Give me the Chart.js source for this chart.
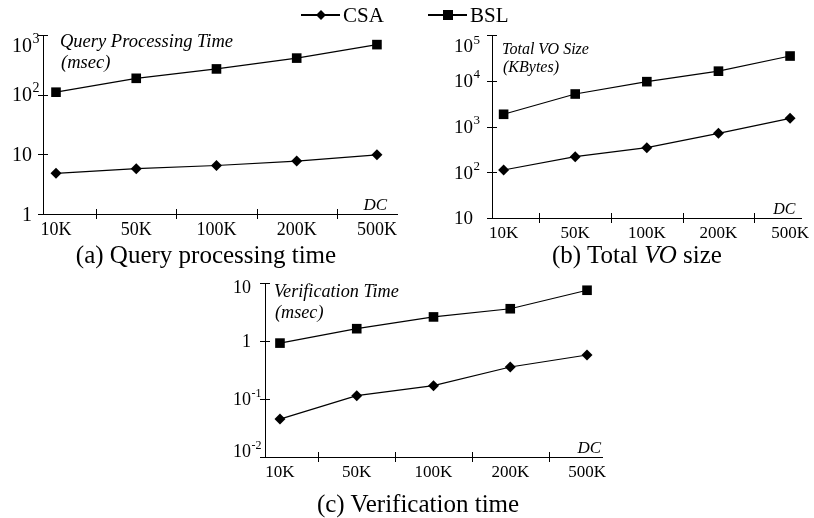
<!DOCTYPE html>
<html><head><meta charset="utf-8">
<script src="https://cdn.jsdelivr.net/npm/chart.js@4.4.1/dist/chart.umd.min.js"></script>
<style>
html,body{margin:0;padding:0;background:#fff;}
#wrap{position:relative;width:814px;height:518px;overflow:hidden;font-family:"Liberation Serif","Times New Roman",serif;color:#000;}
#wrap canvas{position:absolute;left:0;top:0;}
.cap{position:absolute;font-size:25px;white-space:nowrap;transform:translate(-50%,-50%);line-height:1;}
.leg{position:absolute;top:3px;height:24px;display:flex;align-items:center;font-size:21px;line-height:1;}
.leg .ln{position:relative;width:39px;height:1.5px;background:#000;margin-right:3px;}
.leg .dm{position:absolute;left:50%;top:50%;width:7px;height:7px;background:#000;transform:translate(-50%,-50%) rotate(45deg);}
.leg .sq{position:absolute;left:50%;top:50%;width:10px;height:10px;background:#000;transform:translate(-50%,-50%);}
</style></head><body>
<div id="wrap">
<canvas id="ca" width="814" height="518"></canvas>
<canvas id="cb" width="814" height="518"></canvas>
<canvas id="cc" width="814" height="518"></canvas>
<div class="leg" style="left:301px"><span class="ln"><span class="dm"></span></span>CSA</div>
<div class="leg" style="left:428px"><span class="ln"><span class="sq"></span></span>BSL</div>
<div class="cap" style="left:206px;top:254px">(a) Query processing time</div>
<div class="cap" style="left:637px;top:254px">(b) Total <i>VO</i> size</div>
<div class="cap" style="left:418px;top:503px">(c) Verification time</div>
</div>
<script>
// ---- data ----
const categories = ['10K', '50K', '100K', '200K', '500K'];
const seriesNames = ['CSA', 'BSL'];
const queryCSA = [4.8, 5.75, 6.5, 7.7, 9.8];
const queryBSL = [110, 188, 270, 410, 690];
const voCSA = [112, 219, 344, 708, 1510];
const voBSL = [1850, 5130, 9550, 16200, 34700];
const verCSA = [0.045, 0.114, 0.17, 0.356, 0.574];
const verBSL = [0.92, 1.63, 2.6, 3.6, 7.5];
const queryTicks = [1, 10, 100, 1000];
const queryTickLabels = ['1', '10', '10^2', '10^3'];
const voTicks = [10, 100, 1000, 10000, 100000];
const voTickLabels = ['10', '10^2', '10^3', '10^4', '10^5'];
const verTicks = [0.01, 0.1, 1, 10];
const verTickLabels = ['10^-2', '10^-1', '1', '10'];
const queryTitle = ['Query Processing Time', '(msec)'];
const voTitle = ['Total VO Size', '(KBytes)'];
const verTitle = ['Verification Time', '(msec)'];
const xAxisName = 'DC';

const SERIF = '"Liberation Serif", "Times New Roman", serif';
const W = 814, H = 518, XH = 28;

const decor = {
  id: 'decor',
  afterDraw(chart, args, o) {
    const ctx = chart.ctx, a = chart.chartArea;
    const xs = chart.scales.x, ys = chart.scales.y;
    ctx.save();
    ctx.strokeStyle = '#000';
    ctx.lineWidth = 1;
    ctx.beginPath();
    ys.ticks.forEach(t => {
      const y = Math.round(ys.getPixelForValue(t.value)) + 0.5;
      ctx.moveTo(a.left - 5, y); ctx.lineTo(a.left + 5, y);
    });
    for (let i = 0; i < categories.length - 1; i++) {
      const x = Math.round(xs.getPixelForValue(i + 0.5)) + 0.5;
      ctx.moveTo(x, a.bottom - 5); ctx.lineTo(x, a.bottom + 5);
    }
    ctx.stroke();
    ctx.fillStyle = '#000';
    // y tick labels with superscript exponents
    const n = ys.ticks.length;
    ys.ticks.forEach((t, k) => {
      const lab = o.labels[k];
      const parts = lab.split('^');
      let cy = ys.getPixelForValue(t.value);
      if (k === n - 1) cy += o.topShift;
      if (k === 0) cy += o.botShift;
      const base = o.ySize, bl = cy + 0.33 * base;
      const xr = a.left - o.ygap;
      ctx.textBaseline = 'alphabetic';
      ctx.textAlign = 'right';
      ctx.font = base + 'px ' + SERIF;
      ctx.fillText(parts[0], xr, bl);
      if (parts[1]) {
        ctx.textAlign = 'left';
        ctx.font = Math.round(base * 0.68) + 'px ' + SERIF;
        ctx.fillText(parts[1], xr + 0.5, bl - 0.45 * base);
      }
    });
    ctx.textBaseline = 'alphabetic';
    ctx.textAlign = 'left';
    ctx.font = 'italic ' + o.titleSize + 'px ' + SERIF;
    ctx.fillText(o.title[0], a.left + o.tdx, a.top + o.tdy);
    ctx.fillText(o.title[1], a.left + o.tdx + 1, a.top + o.tdy + o.tlh);
    ctx.textAlign = 'right';
    ctx.font = 'italic ' + o.dcSize + 'px ' + SERIF;
    ctx.fillText(xAxisName, a.right - o.dcdx, a.bottom - 4);
    ctx.restore();
  }
};

function makeChart(id, spec) {
  const pts = arr => arr.map((v, i) => ({ x: i, y: v }));
  return new Chart(document.getElementById(id), {
    type: 'line',
    data: {
      datasets: [
        { label: seriesNames[0], data: pts(spec.csa), borderColor: '#000', borderWidth: 1.2,
          pointStyle: 'rectRot', pointRadius: 5.5, pointBackgroundColor: '#000', pointBorderWidth: 0 },
        { label: seriesNames[1], data: pts(spec.bsl), borderColor: '#000', borderWidth: 1.2,
          pointStyle: 'rect', pointRadius: 6.8, pointBackgroundColor: '#000', pointBorderWidth: 0 }
      ]
    },
    options: {
      responsive: false,
      animation: false,
      events: [],
      clip: false,
      layout: {
        autoPadding: false,
        padding: { left: spec.left, right: W - spec.right, top: spec.top, bottom: H - spec.bottom - XH }
      },
      plugins: {
        legend: { display: false }, tooltip: { enabled: false },
        decor: Object.assign({ labels: spec.labels }, spec.decor)
      },
      scales: {
        x: {
          type: 'linear', min: spec.xmin, max: spec.xmax,
          afterBuildTicks: s => { s.ticks = categories.map((c, i) => ({ value: i })); },
          afterFit: s => { s.height = XH; },
          grid: { display: false, drawTicks: false },
          border: { display: true, color: '#000', width: 1 },
          ticks: { autoSkip: false, maxRotation: 0, padding: 5, color: '#000',
            font: { family: SERIF, size: spec.xfont },
            callback: v => categories[v] }
        },
        y: {
          type: 'logarithmic', min: spec.ticks[0], max: spec.ticks[spec.ticks.length - 1],
          afterBuildTicks: s => { s.ticks = spec.ticks.map(v => ({ value: v })); },
          afterFit: s => { s.width = 0; },
          grid: { display: false, drawTicks: false },
          border: { display: true, color: '#000', width: 1 },
          ticks: { display: false }
        }
      }
    },
    plugins: [decor]
  });
}

makeChart('ca', { csa: queryCSA, bsl: queryBSL, ticks: queryTicks, labels: queryTickLabels,
  left: 43, right: 397, top: 35, bottom: 214, xmin: -0.162, xmax: 4.25, xfont: 18,
  decor: { title: queryTitle, titleSize: 18.5, tdx: 17, tdy: 12, tlh: 21, dcSize: 17, dcdx: 10,
    ySize: 20, ygap: 11, topShift: 10, botShift: 0 } });
makeChart('cb', { csa: voCSA, bsl: voBSL, ticks: voTicks, labels: voTickLabels,
  left: 492, right: 813, top: 35, bottom: 218, xmin: -0.162, xmax: 4.16, xfont: 17,
  decor: { title: voTitle, titleSize: 16, tdx: 10, tdy: 19, tlh: 18, dcSize: 16, dcdx: 6,
    ySize: 19, ygap: 19, topShift: 11, botShift: 0 } });
makeChart('cc', { csa: verCSA, bsl: verBSL, ticks: verTicks, labels: verTickLabels,
  left: 265, right: 602, top: 283, bottom: 457, xmin: -0.195, xmax: 4.195, xfont: 17,
  decor: { title: verTitle, titleSize: 18.2, tdx: 9, tdy: 14, tlh: 21, dcSize: 17, dcdx: 1,
    ySize: 18, ygap: 14, topShift: 4, botShift: -6 } });
</script>
</body></html>
